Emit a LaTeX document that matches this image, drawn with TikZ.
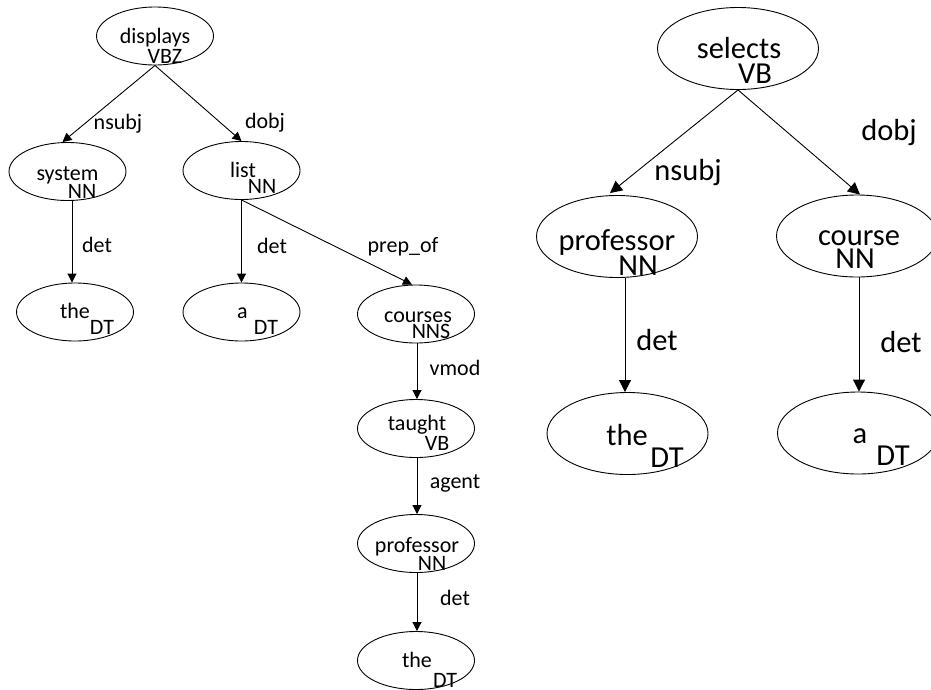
\documentclass[tikz,border=0pt]{standalone}
\usepackage{fontspec}
\setmainfont{Carlito}
\usetikzlibrary{shapes.geometric,arrows.meta}
\begin{document}
\begin{tikzpicture}[x=1pt,y=-1pt,
  lell/.style={ellipse,draw,line width=0.9pt,minimum width=117pt,minimum height=58pt,inner sep=0pt},
  rell/.style={ellipse,draw,line width=0.9pt,minimum width=161pt,minimum height=82pt,inner sep=0pt},
  ltxt/.style={anchor=base,inner sep=0pt,font=\fontsize{22}{24}\selectfont},
  rtxt/.style={anchor=base,inner sep=0pt,font=\fontsize{30.5}{33}\selectfont},
  ledge/.style={line width=0.9pt,-{Triangle[length=9pt,width=9pt]}},
  redge/.style={line width=0.9pt,-{Triangle[length=12pt,width=12pt]}}]
\useasboundingbox (0,0) rectangle (931,689);

% ---- first parse: displays ----
\node[lell] (displays) at (155,36) {};
\node[lell] (system) at (67.5,171.5) {};
\node[lell] (list) at (241.5,170.5) {};
\node[lell] (the1) at (75,312) {};
\node[lell] (a1) at (241.5,312) {};
\node[lell] (courses) at (416,314) {};
\node[lell] (taught) at (416,428.5) {};
\node[lell] (prof1) at (416,543.5) {};
\node[lell] (the2) at (416,660.5) {};

\node[ltxt] (displays-w) at (155,43) {displays};
\node[ltxt] (displays-t) at (165,63) {VBZ};
\node[ltxt] (system-w) at (67.5,180) {system};
\node[ltxt] (system-t) at (82,198) {NN};
\node[ltxt] (list-w) at (243,177) {list};
\node[ltxt] (list-t) at (262,193) {NN};
\node[ltxt] (the1-w) at (75,318) {the};
\node[ltxt] (the1-t) at (102,334) {DT};
\node[ltxt] (a1-w) at (242.5,318) {a};
\node[ltxt] (a1-t) at (266,334) {DT};
\node[ltxt] (courses-w) at (418,322) {courses};
\node[ltxt] (courses-t) at (431,338) {NNS};
\node[ltxt] (taught-w) at (417,430) {taught};
\node[ltxt] (taught-t) at (437,450) {VB};
\node[ltxt] (prof1-w) at (417,552) {professor};
\node[ltxt] (prof1-t) at (432,570) {NN};
\node[ltxt] (the2-w) at (417,667) {the};
\node[ltxt] (the2-t) at (445,687) {DT};

\draw[ledge] (displays.south) -- ([xshift=-5pt]system.north);
\draw[ledge] (displays.south) -- (list.north);
\draw[ledge] ([xshift=4.5pt]system.south) -- ([xshift=-3pt]the1.north);
\draw[ledge] (list.south) -- (a1.north);
\draw[ledge] (list.south) -- ([xshift=-4pt]courses.north);
\draw[ledge] ([xshift=1pt]courses.south) -- ([xshift=1pt]taught.north);
\draw[ledge] ([xshift=1pt]taught.south) -- ([xshift=1pt]prof1.north);
\draw[ledge] ([xshift=1pt]prof1.south) -- ([xshift=1pt]the2.north);

\node[ltxt] (l-nsubj) at (118,129) {nsubj};
\node[ltxt] (l-dobj) at (265,128) {dobj};
\node[ltxt] (l-det1) at (97,252) {det};
\node[ltxt] (l-det2) at (272,253) {det};
\node[ltxt] (l-prep) at (403,252) {prep\_of};
\node[ltxt] (l-vmod) at (455,375) {vmod};
\node[ltxt] (l-agent) at (455,488) {agent};
\node[ltxt] (l-det3) at (455,605) {det};

% ---- second parse: selects ----
\node[rell] (selects) at (738,48.5) {};
\node[rell] (prof2) at (617,236.5) {};
\node[rell] (course) at (857,236) {};
\node[rell] (the3) at (627.5,433.5) {};
\node[rell] (a3) at (858,433) {};

\node[rtxt] (selects-w) at (739,58) {selects};
\node[rtxt] (selects-t) at (755,83) {VB};
\node[rtxt] (prof2-w) at (617,250) {professor};
\node[rtxt] (prof2-t) at (638,275) {NN};
\node[rtxt] (course-w) at (859,245) {course};
\node[rtxt] (course-t) at (855,268) {NN};
\node[rtxt] (the3-w) at (627,445) {the};
\node[rtxt] (the3-t) at (667,467) {DT};
\node[rtxt] (a3-w) at (860,443) {a};
\node[rtxt] (a3-t) at (893,465) {DT};

\draw[redge] (selects.south) -- ([xshift=-7pt,yshift=2pt]prof2.north);
\draw[redge] (selects.south) -- ([xshift=3pt]course.north);
\draw[redge] ([xshift=8pt]prof2.south) -- ([xshift=-2.5pt]the3.north);
\draw[redge] ([xshift=2pt]course.south) -- ([xshift=1pt]a3.north);

\node[rtxt] (r-nsubj) at (688,180) {nsubj};
\node[rtxt] (r-dobj) at (889,140) {dobj};
\node[rtxt] (r-det1) at (657,350) {det};
\node[rtxt] (r-det2) at (901,352) {det};
\end{tikzpicture}
\end{document}
